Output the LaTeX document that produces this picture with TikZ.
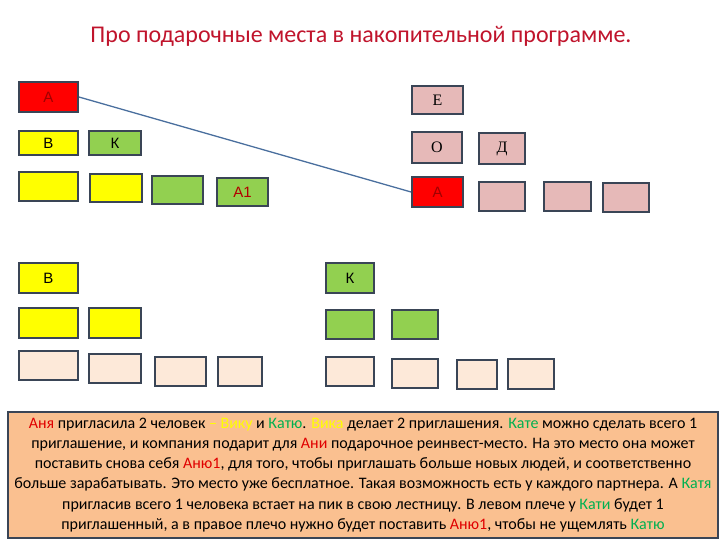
\documentclass[tikz,border=0pt]{standalone}
\usepackage{fontspec}
\setmainfont{Carlito}
\newfontfamily\arialfont{Liberation Sans}
\newfontfamily\timesfont{Liberation Serif}
\definecolor{boxline}{HTML}{3A4556}
\definecolor{redbox}{HTML}{FF0000}
\definecolor{yellowbox}{HTML}{FFFF00}
\definecolor{greenbox}{HTML}{92D050}
\definecolor{pinkbox}{HTML}{E6B9B8}
\definecolor{peachbox}{HTML}{FDE9D9}
\definecolor{notefill}{HTML}{FAC090}
\definecolor{titlered}{HTML}{C0142C}
\definecolor{darkred}{HTML}{A00000}
\definecolor{txtred}{HTML}{E00000}
\definecolor{txtgreen}{HTML}{00B050}
\definecolor{txtyellow}{HTML}{FFFF00}
\definecolor{linkblue}{HTML}{4A6F9E}
\tikzset{
  slot/.style={draw=boxline, line width=1.8pt, inner sep=0pt, font=\arialfont\fontsize{15}{15}\selectfont},
  redslot/.style={slot, fill=redbox, text=darkred},
  yellowslot/.style={slot, fill=yellowbox},
  greenslot/.style={slot, fill=greenbox},
  pinkslot/.style={slot, fill=pinkbox, font=\timesfont\fontsize{16}{16}\selectfont},
  peachslot/.style={slot, fill=peachbox},
  size/.style 2 args={minimum width=#1pt, minimum height=#2pt}
}
\newcommand{\namered}[1]{\textcolor{txtred}{#1}}
\newcommand{\namegreen}[1]{\textcolor{txtgreen}{#1}}
\newcommand{\nameyellow}[1]{\textcolor{txtyellow}{#1}}
\begin{document}
\begin{tikzpicture}[x=1pt, y=-1pt]
  \useasboundingbox (0,0) rectangle (720,540);

  \node (title) at (361,36) {\fontsize{24}{24}\selectfont\color{titlered}Про подарочные места в накопительной программе.};

  % upper tree
  \node[redslot, size={59}{30}] (anya) at (48.5,97) {А};
  \node[yellowslot, size={59}{24}] (vika) at (48.5,143) {В};
  \node[greenslot, size={52}{24}] (katya) at (115,143) {К};
  \node[yellowslot, size={59}{29}] (y1) at (48.5,186.5) {};
  \node[yellowslot, size={52}{28}] (y2) at (116,188) {};
  \node[greenslot, size={51}{28}] (g1) at (177.5,190) {};
  \node[greenslot, size={51}{28}, text=txtred!80!black] (anya1) at (242.5,192) {А1};

  % reinvest tree
  \node[pinkslot, size={51}{28}] (e) at (437.5,100) {Е};
  \node[pinkslot, size={50}{31}] (o) at (437,147.5) {О};
  \node[pinkslot, size={46}{31}] (d) at (502,148.5) {Д};
  \node[redslot, size={51}{30}] (anyaR) at (437.5,192) {А};
  \node[pinkslot, size={46}{29}] (p1) at (502,196.5) {};
  \node[pinkslot, size={47}{29}] (p2) at (567.5,196.5) {};
  \node[pinkslot, size={46}{29}] (p3) at (626,197.5) {};

  \draw[linkblue, line width=1.3pt] (anya.east) -- (anyaR.west);

  % Vika's tree
  \node[yellowslot, size={59}{30}] (vika2) at (48.5,278) {В};
  \node[yellowslot, size={59}{30}] (y3) at (48.5,323) {};
  \node[yellowslot, size={52}{30}] (y4) at (115,323) {};
  \node[peachslot, size={59}{29}] (v1) at (48.5,365.5) {};
  \node[peachslot, size={52}{29}] (v2) at (115,368.5) {};
  \node[peachslot, size={51}{29}] (v3) at (180.5,371.5) {};
  \node[peachslot, size={44}{29}] (v4) at (240,371.5) {};

  % Katya's tree
  \node[greenslot, size={48}{30}] (katya2) at (350,278) {К};
  \node[greenslot, size={48}{29}] (g3) at (350,324.5) {};
  \node[greenslot, size={46}{29}] (g4) at (415,324.5) {};
  \node[peachslot, size={48}{29}] (k1) at (350,371.5) {};
  \node[peachslot, size={46}{29}] (k2) at (415,373.5) {};
  \node[peachslot, size={40}{29}] (k3) at (477,374.5) {};
  \node[peachslot, size={46}{30}] (k4) at (531,374) {};

  % explanation
  \node[draw=boxline, line width=1.8pt, fill=notefill, size={710}{126}, inner sep=0pt,
        align=center, font=\fontsize{16}{20.2}\selectfont] (note) at (363,475)
  {\namered{Аня} пригласила 2 человек \nameyellow{– Вику} и \namegreen{Катю}. \nameyellow{Вика} делает 2 приглашения. \namegreen{Кате} можно сделать всего 1\\
   приглашение, и компания подарит для \namered{Ани} подарочное реинвест-место. На это место она может\\
   поставить снова себя \namered{Аню1}, для того, чтобы приглашать больше новых людей, и соответственно\\
   больше зарабатывать. Это место уже бесплатное. Такая возможность есть у каждого партнера. А \namegreen{Катя}\\
   пригласив всего 1 человека встает на пик в свою лестницу. В левом плече у \namegreen{Кати} будет 1\\
   приглашенный, а в правое плечо нужно будет поставить \namered{Аню1}, чтобы не ущемлять \namegreen{Катю}};
\end{tikzpicture}
\end{document}
